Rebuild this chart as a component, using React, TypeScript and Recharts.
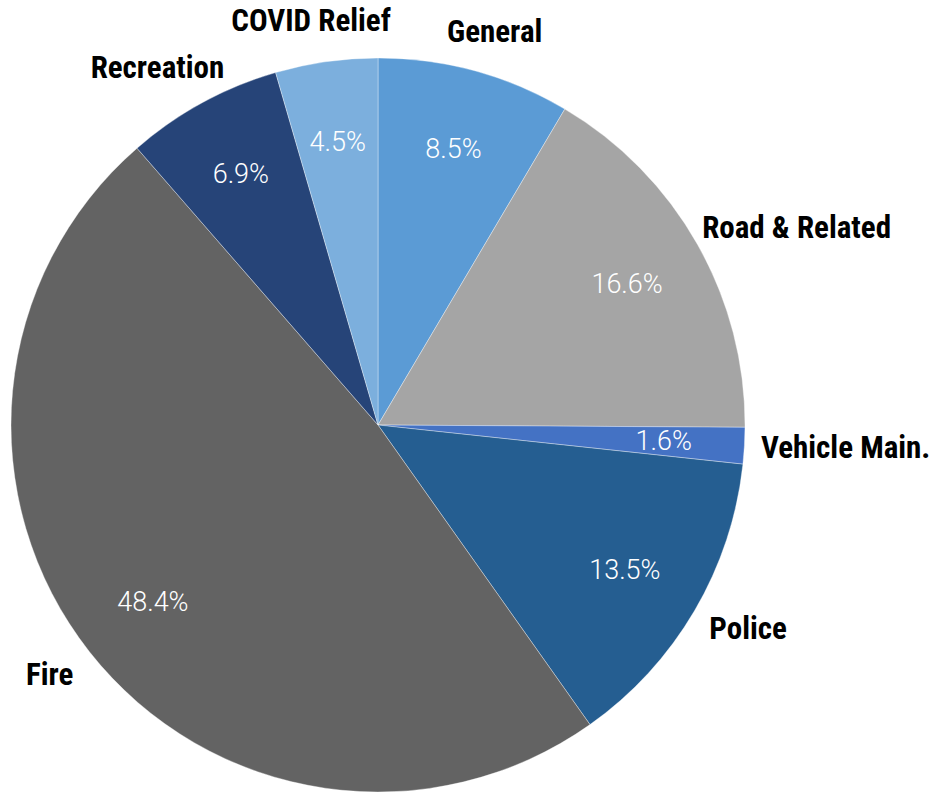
import { PieChart, Pie, Cell } from 'recharts'

const categories = ['General', 'Road & Related', 'Vehicle Main.', 'Police', 'Fire', 'Recreation', 'COVID Relief']
const shares = [8.5, 16.6, 1.6, 13.5, 48.4, 6.9, 4.5]
const colors = ['#5b9bd5', '#a5a5a5', '#4472c4', '#255e91', '#636363', '#264478', '#7cafdd']

const RADIAN = Math.PI / 180

const data = categories.map((name, i) => ({ name, value: shares[i] }))

// inside percentage + outside category name, placed off the slice mid angle
function renderLabel(props: any) {
  const { cx, cy, midAngle, outerRadius, index } = props
  const cos = Math.cos(-midAngle * RADIAN)
  const sin = Math.sin(-midAngle * RADIAN)

  const rIn = outerRadius * 0.78
  const px = cx + rIn * cos
  const py = cy + rIn * sin

  const name = categories[index]
  const fs = 31
  const w = name.length * fs * 0.42
  const h = fs * 0.75
  // a bit more room above / below the pie than at the sides
  const rOut = outerRadius + 16 + 14 * Math.abs(sin)
  const ax = cx + rOut * cos
  const ay = cy + rOut * sin
  const nx = ax + (w / 2) * cos
  const ny = ay + (h / 2) * sin

  return (
    <g>
      <text
        x={px}
        y={py}
        fill="#ffffff"
        textAnchor="middle"
        dominantBaseline="central"
        fontFamily="Roboto, sans-serif"
        fontWeight={300}
        fontSize={27}
      >
        {`${shares[index].toFixed(1)}%`}
      </text>
      <text
        x={nx}
        y={ny}
        fill="#000000"
        textAnchor="middle"
        dominantBaseline="central"
        fontFamily="'Roboto Condensed', Roboto, sans-serif"
        fontWeight={700}
        fontSize={fs}
      >
        {name}
      </text>
    </g>
  )
}

export default function App() {
  return (
    <div style={{ position: 'absolute', left: 0, top: 0, width: 936, height: 795, background: '#fff' }}>
      <PieChart width={936} height={795} margin={{ top: 0, right: 0, bottom: 0, left: 0 }}>
        <Pie
          data={data}
          dataKey="value"
          nameKey="name"
          cx={378}
          cy={425}
          outerRadius={367}
          startAngle={90}
          endAngle={-270}
          stroke="#ffffff"
          strokeOpacity={0.35}
          strokeWidth={1}
          labelLine={false}
          label={renderLabel}
          isAnimationActive={false}
        >
          {data.map((entry, i) => (
            <Cell key={`slice-${entry.name}`} fill={colors[i]} />
          ))}
        </Pie>
      </PieChart>
    </div>
  )
}
